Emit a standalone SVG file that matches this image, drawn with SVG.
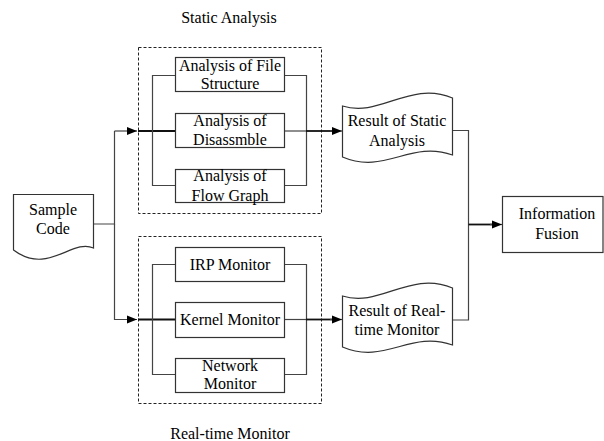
<svg xmlns="http://www.w3.org/2000/svg" width="604" height="441" viewBox="0 0 604 441">
<defs>
<style>
text{font-family:"Liberation Serif","Times New Roman",serif;font-size:16px;fill:#000;text-anchor:middle}
.box{fill:#fff;stroke:#333;stroke-width:1.2}
.grp{fill:none;stroke:#222;stroke-width:1;stroke-dasharray:3,2}
.ln{fill:none;stroke:#444;stroke-width:1.2}
.th{fill:none;stroke:#111;stroke-width:1.8}
</style>
<marker id="ah" viewBox="0 0 10 10" refX="10" refY="5" markerWidth="10" markerHeight="10" markerUnits="userSpaceOnUse" orient="auto">
<path d="M0,1 L10,5 L0,9 Z" fill="#000"/>
</marker>
</defs>
<rect width="604" height="441" fill="#fff"/>

<g id="static-group">
<rect class="grp" x="138.5" y="47.5" width="183" height="166"/>
<text x="229" y="22.5">Static Analysis</text>
</g>
<g id="realtime-group">
<rect class="grp" x="138.5" y="236.5" width="183" height="167"/>
<text x="230" y="438.5">Real-time Monitor</text>
</g>

<g id="connectors">
<path class="ln" d="M93,224 H114.5 V131"/>
<path class="ln" d="M114.5,131 H137" marker-end="url(#ah)"/>
<path class="th" d="M138,131 H175"/>
<path class="ln" d="M175,75.5 H152.5 V185.5 H175"/>
<path class="ln" d="M284,75.5 H306.5 V185.5 H284"/>
<path class="ln" d="M284,131 H306"/>
<path class="th" d="M306,131 H334"/>
<path class="ln" d="M330,131 H342" marker-end="url(#ah)"/>

<path class="ln" d="M114.5,224 V319.5 H137" marker-end="url(#ah)"/>
<path class="th" d="M138,319.5 H175"/>
<path class="ln" d="M175,264.5 H152.5 V374.5 H175"/>
<path class="ln" d="M284,264.5 H306.5 V374.5 H284"/>
<path class="ln" d="M284,319.5 H306"/>
<path class="th" d="M306,319.5 H334"/>
<path class="ln" d="M330,319.5 H342" marker-end="url(#ah)"/>

<path class="ln" d="M452,130.5 H468.5 V320 H452"/>
<path class="th" d="M468.5,224.5 H494"/>
<path class="ln" d="M490,224.5 H502" marker-end="url(#ah)"/>
</g>

<g id="sample-code">
<path class="box" d="M13.5,194.5 H93.5 V248 C72,238 48,276 13.5,250 Z"/>
<text x="53" y="214.5">Sample</text>
<text x="53" y="233.5">Code</text>
</g>

<g id="file-structure">
<rect class="box" x="175.5" y="57.5" width="109" height="34"/>
<text x="230" y="70.5">Analysis of File</text>
<text x="230" y="88.5">Structure</text>
</g>
<g id="disassemble">
<rect class="box" x="175.5" y="113.5" width="109" height="34"/>
<text x="230" y="125.5">Analysis of</text>
<text x="230" y="144.5">Disassmble</text>
</g>
<g id="flow-graph">
<rect class="box" x="175.5" y="169.5" width="109" height="33"/>
<text x="230" y="180.5">Analysis of</text>
<text x="230" y="200.5">Flow Graph</text>
</g>

<g id="irp-monitor">
<rect class="box" x="175.5" y="247.5" width="109" height="34"/>
<text x="230" y="269.5">IRP Monitor</text>
</g>
<g id="kernel-monitor">
<rect class="box" x="175.5" y="302.5" width="109" height="35"/>
<text x="230" y="324.5">Kernel Monitor</text>
</g>
<g id="network-monitor">
<rect class="box" x="175.5" y="358.5" width="109" height="34"/>
<text x="230" y="370.5">Network</text>
<text x="230" y="388.5">Monitor</text>
</g>

<g id="result-static">
<path class="box" d="M342.5,106 C380,118 410,80 452.5,98 V155 C410,140 385,175 342.5,157 Z"/>
<text x="397" y="125.5">Result of Static</text>
<text x="397" y="145.5">Analysis</text>
</g>
<g id="result-realtime">
<path class="box" d="M342.5,296 C380,308 410,270 452.5,288 V345 C410,330 385,365 342.5,347 Z"/>
<text x="397" y="315.5">Result of Real-</text>
<text x="397" y="334.5">time Monitor</text>
</g>

<g id="information-fusion">
<rect class="box" x="502.5" y="196.5" width="100.5" height="56"/>
<text x="557" y="218.5">Information</text>
<text x="557" y="238.5">Fusion</text>
</g>
</svg>
